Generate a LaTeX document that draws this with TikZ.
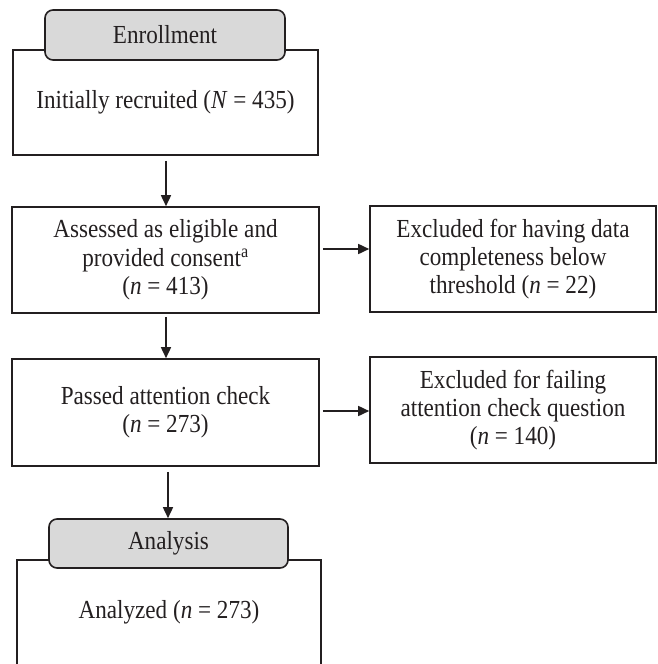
\documentclass[tikz,border=0pt]{standalone}
\usepackage{fontspec}
\setmainfont{Liberation Serif}[FakeStretch=0.89]
\usetikzlibrary{arrows.meta,calc}
\definecolor{ink}{HTML}{231F20}
\definecolor{tabgray}{HTML}{D9D9D9}
\tikzset{
  txt/.style={text=ink, font=\fontsize{26}{28.3}\selectfont},
  box/.style={draw=ink, line width=1.6pt, rectangle, inner sep=0pt, align=center, txt},
  tabbox/.style={draw=ink, line width=1.6pt, fill=tabgray, rounded corners=8pt,
    inner sep=0pt, align=center, txt},
  arr/.style={draw=ink, line width=1.6pt, -{Triangle[length=11pt,width=10pt]}},
}
\begin{document}
\begin{tikzpicture}[x=1pt,y=-1pt]
\clip (0,0) rectangle (657,664);
% boxes
\node[box, minimum width=305pt, minimum height=105pt] (b1) at (165.5,102.5) {Initially recruited (\textit{N} = 435)};
\node[tabbox, minimum width=240pt, minimum height=50pt] (t1) at (165,35) {Enrollment};
\node[box, minimum width=307pt, minimum height=106pt] (b2) at (165.5,260) {Assessed as eligible and\\provided consent\textsuperscript{a}\\(\textit{n} = 413)};
\node[box, minimum width=286pt, minimum height=106pt] (e1) at (513,259) {Excluded for having data\\completeness below\\threshold (\textit{n} = 22)};
\node[box, minimum width=307pt, minimum height=107pt] (b3) at (165.5,412.5) {Passed attention check\\(\textit{n} = 273)};
\node[box, minimum width=286pt, minimum height=106pt] (e2) at (513,410) {Excluded for failing\\attention check question\\(\textit{n} = 140)};
\node[box, minimum width=304pt, minimum height=120pt] (b4) at (169,620) {};
\node[txt] (a4) at (169,612) {Analyzed (\textit{n} = 273)};
\node[tabbox, minimum width=239pt, minimum height=49pt] (t2) at (168.5,543.5) {Analysis};
% connectors
\draw[arr] ($(b1.south)+(0.5,5)$) -- (b2.north -| 166,0);
\draw[arr] ($(b2.south)+(0.5,3)$) -- (b3.north -| 166,0);
\draw[arr] ($(b3.south)+(2.5,5)$) -- (t2.north -| 168,0);
\draw[arr] ($(b2.east)+(3,-11)$) -- ($(e1.west)+(0,-10)$);
\draw[arr] ($(b3.east)+(3,-1.5)$) -- ($(e2.west)+(0,1)$);
\end{tikzpicture}
\end{document}
